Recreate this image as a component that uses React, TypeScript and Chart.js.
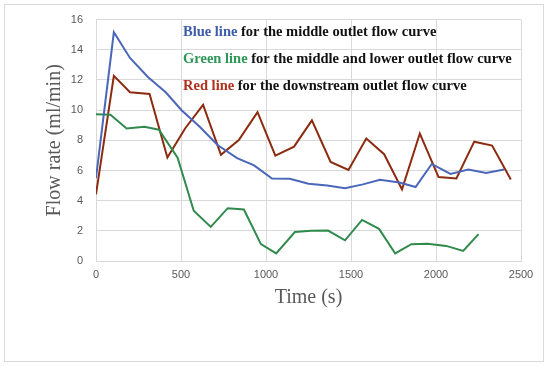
import React, { useEffect, useRef } from "react";
import { Chart, registerables } from "chart.js";

Chart.register(...registerables);

const blueTimes = [0, 105, 200, 305, 410, 505, 610, 715, 830, 930, 1035, 1140, 1250, 1360, 1465, 1570, 1670, 1785, 1880, 1975, 2085, 2190, 2295, 2400];
const blueValues = [5.5, 15.16, 13.46, 12.2, 11.18, 9.98, 8.9, 7.69, 6.82, 6.34, 5.47, 5.45, 5.12, 5.01, 4.82, 5.08, 5.38, 5.2, 4.9, 6.43, 5.77, 6.06, 5.84, 6.06];

const greenTimes = [0, 85, 180, 285, 370, 480, 575, 675, 775, 870, 970, 1060, 1170, 1265, 1365, 1465, 1565, 1665, 1760, 1855, 1950, 2060, 2160, 2250];
const greenValues = [9.72, 9.69, 8.78, 8.89, 8.7, 6.85, 3.33, 2.26, 3.5, 3.41, 1.12, 0.5, 1.92, 2.0, 2.02, 1.37, 2.72, 2.13, 0.5, 1.11, 1.15, 1.0, 0.67, 1.78];

const redTimes = [0, 105, 200, 315, 420, 525, 630, 735, 840, 950, 1055, 1165, 1270, 1380, 1485, 1590, 1695, 1800, 1905, 2015, 2120, 2225, 2330, 2440];
const redValues = [4.42, 12.27, 11.18, 11.07, 6.86, 8.8, 10.35, 7.04, 8.02, 9.87, 6.99, 7.58, 9.32, 6.56, 6.03, 8.12, 7.08, 4.75, 8.45, 5.56, 5.47, 7.91, 7.65, 5.4];

const annotations = [
  { colored: "Blue line", rest: " for the middle outlet flow curve", color: "#3D5DAA" },
  { colored: "Green line", rest: " for the middle and lower outlet flow curve", color: "#2E9656" },
  { colored: "Red line", rest: " for the downstream outlet flow curve", color: "#B0301C" },
];

const toPoints = (t: number[], v: number[]) => t.map((x, i) => ({ x, y: v[i] }));

const textPlugin = {
  id: "legendText",
  afterDatasetsDraw(chart: any) {
    const ctx = chart.ctx;
    ctx.save();
    ctx.font = "bold 14.5px 'Liberation Serif', 'Times New Roman', serif";
    ctx.textBaseline = "middle";
    ctx.textAlign = "left";
    const x0 = 183;
    const ys = [32, 59, 86];
    annotations.forEach((a, i) => {
      ctx.fillStyle = a.color;
      ctx.fillText(a.colored, x0, ys[i]);
      const w = ctx.measureText(a.colored).width;
      ctx.fillStyle = "#111111";
      ctx.fillText(a.rest, x0 + w, ys[i]);
    });
    ctx.restore();
  },
};

const borderPlugin = {
  id: "outerBorder",
  beforeDraw(chart: any) {
    const ctx = chart.ctx;
    ctx.save();
    ctx.fillStyle = "#ffffff";
    ctx.fillRect(0, 0, chart.width, chart.height);
    ctx.strokeStyle = "#d9d9d9";
    ctx.lineWidth = 1;
    ctx.strokeRect(4.5, 4.5, 539, 357);
    ctx.restore();
  },
};

export default function App() {
  const ref = useRef<HTMLCanvasElement | null>(null);
  useEffect(() => {
    if (!ref.current) return;
    const tickFont = { family: "'Liberation Sans', Arial, sans-serif", size: 11 };
    const titleFont = { family: "'Liberation Serif', 'Times New Roman', serif", size: 20 };
    const chart = new Chart(ref.current, {
      type: "line",
      data: {
        datasets: [
          { label: "Blue", data: toPoints(blueTimes, blueValues), borderColor: "#4A67B9", borderWidth: 2, pointRadius: 0, tension: 0, fill: false },
          { label: "Green", data: toPoints(greenTimes, greenValues), borderColor: "#2F8A4C", borderWidth: 2, pointRadius: 0, tension: 0, fill: false },
          { label: "Red", data: toPoints(redTimes, redValues), borderColor: "#8C2B10", borderWidth: 2, pointRadius: 0, tension: 0, fill: false },
        ],
      },
      options: {
        animation: false,
        responsive: false,
        maintainAspectRatio: false,
        layout: { padding: { left: 4, right: 29, top: 16, bottom: 8 } },
        plugins: { legend: { display: false }, tooltip: { enabled: false } },
        scales: {
          x: {
            type: "linear",
            min: 0,
            max: 2500,
            ticks: { stepSize: 500, color: "#595959", font: tickFont, padding: 7, callback: (v: any) => String(v) },
            grid: { color: "#d9d9d9", drawTicks: false },
            border: { color: "#d9d9d9" },
            title: { display: true, text: "Time (s)", color: "#595959", font: titleFont, padding: { top: 0, bottom: 51 } },
            afterFit: (s: any) => { s.height = 100; },
          },
          y: {
            min: 0,
            max: 16,
            ticks: { stepSize: 2, color: "#595959", font: tickFont, padding: 13 },
            grid: { color: "#d9d9d9", drawTicks: false },
            border: { color: "#d9d9d9" },
            title: { display: true, text: "Flow rate (ml/min)", color: "#595959", font: titleFont, padding: { top: 39, bottom: 0 } },
            afterFit: (s: any) => { s.width = 92; },
          },
        },
      },
      plugins: [borderPlugin, textPlugin],
    });
    return () => chart.destroy();
  }, []);
  return (
    <div style={{ position: "absolute", left: 0, top: 0, width: 550, height: 369 }}>
      <canvas ref={ref} width={550} height={369} style={{ display: "block" }} />
    </div>
  );
}
